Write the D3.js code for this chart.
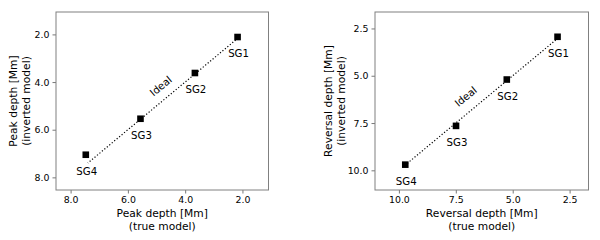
<!DOCTYPE html>
<html>
<head>
<meta charset="utf-8">
<script src="https://cdn.jsdelivr.net/npm/d3@7"></script>
<style>
  body { margin: 0; background: #fff; }
  svg text { font-family: "DejaVu Sans", sans-serif; fill: #000; }
</style>
</head>
<body>
<div id="chart"></div>
<script>
// data
var names = ["SG1", "SG2", "SG3", "SG4"];
var peakTrue = [2.17, 3.66, 5.56, 7.47];
var peakInv = [2.11, 3.62, 5.54, 7.05];
var revTrue = [3.03, 5.26, 7.49, 9.72];
var revInv = [2.94, 5.20, 7.65, 9.70];
var peakTicks = [2.0, 4.0, 6.0, 8.0];
var revTicks = [2.5, 5.0, 7.5, 10.0];
var peakIdeal = [2.15, 7.4];
var revIdeal = [3.0, 9.7];

var svg = d3.select("#chart").append("svg")
    .attr("width", 600)
    .attr("height", 240);

function panel(cfg) {
    var g = svg.append("g");
    var x = d3.scaleLinear().domain(cfg.xDomain).range([cfg.left, cfg.right]);
    var y = d3.scaleLinear().domain(cfg.yDomain).range([cfg.top, cfg.bottom]);

    // ideal line
    g.append("line")
        .attr("x1", x(cfg.ideal[0])).attr("y1", y(cfg.ideal[0]))
        .attr("x2", x(cfg.ideal[1])).attr("y2", y(cfg.ideal[1]))
        .attr("stroke", "#000")
        .attr("stroke-width", 1.2)
        .attr("stroke-dasharray", "1.2,2");

    var pts = cfg.xs.map(function (v, i) { return {x: v, y: cfg.ys[i], name: names[i]}; });

    g.selectAll("rect.pt").data(pts).enter().append("rect")
        .attr("class", "pt")
        .attr("x", function (d) { return x(d.x) - 3.3; })
        .attr("y", function (d) { return y(d.y) - 3.3; })
        .attr("width", 6.6).attr("height", 6.6)
        .attr("fill", "#000");

    g.selectAll("text.lab").data(pts).enter().append("text")
        .attr("class", "lab")
        .attr("x", function (d) { return x(d.x) + 1; })
        .attr("y", function (d) { return y(d.y) + 20; })
        .attr("text-anchor", "middle")
        .attr("font-size", 10.2)
        .text(function (d) { return d.name; });

    var a = -Math.atan((y(1) - y(0)) / (x(0) - x(1))) * 180 / Math.PI;
    g.append("text")
        .attr("transform", "translate(" + x(cfg.idealPos[0]) + "," + y(cfg.idealPos[1]) + ") rotate(" + a + ")")
        .attr("text-anchor", "middle")
        .attr("dy", "0.35em")
        .attr("font-size", 10.2)
        .text("Ideal");

    // axes
    var xa = g.append("g")
        .attr("transform", "translate(0," + cfg.bottom + ")")
        .call(d3.axisBottom(x).tickValues(cfg.ticks).tickFormat(d3.format(".1f")).tickSize(3.5).tickPadding(3));
    var ya = g.append("g")
        .attr("transform", "translate(" + cfg.left + ",0)")
        .call(d3.axisLeft(y).tickValues(cfg.ticks).tickFormat(d3.format(".1f")).tickSize(3.5).tickPadding(3));
    [xa, ya].forEach(function (ax) {
        ax.select(".domain").remove();
        ax.selectAll("line").attr("stroke", "#555").attr("stroke-width", 0.8);
        ax.selectAll("text").attr("font-size", 9.4).attr("font-family", "DejaVu Sans").attr("fill", "#000");
    });

    g.append("rect")
        .attr("x", cfg.left).attr("y", cfg.top)
        .attr("width", cfg.right - cfg.left).attr("height", cfg.bottom - cfg.top)
        .attr("fill", "none")
        .attr("stroke", "#808080")
        .attr("stroke-width", 1);

    var cx = (cfg.left + cfg.right) / 2;
    g.append("text").attr("x", cx).attr("y", 216.5).attr("text-anchor", "middle")
        .attr("font-size", 10.7).text(cfg.label + " [Mm]");
    g.append("text").attr("x", cx).attr("y", 229.5).attr("text-anchor", "middle")
        .attr("font-size", 10.7).text("(true model)");

    var cy = (cfg.top + cfg.bottom) / 2;
    g.append("text").attr("transform", "translate(" + (cfg.yLabelX) + "," + cy + ") rotate(-90)")
        .attr("text-anchor", "middle").attr("font-size", 10.7).text(cfg.label + " [Mm]");
    g.append("text").attr("transform", "translate(" + (cfg.yLabelX + 13) + "," + cy + ") rotate(-90)")
        .attr("text-anchor", "middle").attr("font-size", 10.7).text("(inverted model)");
}

panel({
    left: 56, right: 268.5, top: 12, bottom: 190,
    xDomain: [8.51, 1.09], yDomain: [1.06, 8.53],
    xs: peakTrue, ys: peakInv, ticks: peakTicks,
    ideal: peakIdeal, idealPos: [4.85, 4.17],
    label: "Peak depth", yLabelX: 17
});

panel({
    left: 375, right: 588.5, top: 12, bottom: 190,
    xDomain: [11.05, 1.67], yDomain: [1.63, 11.04],
    xs: revTrue, ys: revInv, ticks: revTicks,
    ideal: revIdeal, idealPos: [7.06, 6.1],
    label: "Reversal depth", yLabelX: 331.5
});
</script>
</body>
</html>
